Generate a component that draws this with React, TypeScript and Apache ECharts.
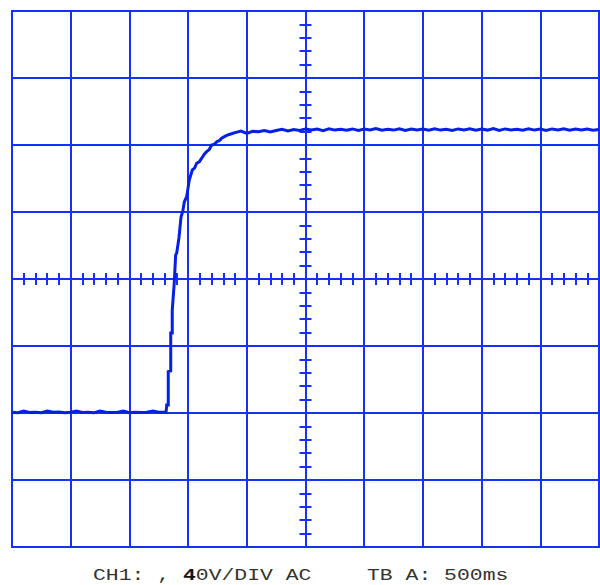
import React, { useEffect, useRef } from "react";
import * as echarts from "echarts";

// Scope settings: 40 V/div vertically (8 divisions), 500 ms/div horizontally (10 divisions),
// time measured in seconds from the centre of the screen.
const voltsPerDiv = 40;
const secondsPerDiv = 0.5;
const verticalDivs = 8;
const horizontalDivs = 10;
const ticksPerDiv = 5;

// Captured CH1 record
const sampleStep = 0.05;

// Flat level before the step, sampled from t = -2.50 s
const baselineStart = -2.5;
const baselineVolts = [
  -79.6, -79.8, -78.9, -79.7, -79.5, -79.8, -78.9, -79.6, -79.4, -79.8,
  -79.6, -78.8, -79.7, -79.6, -79.8, -78.9, -79.5, -79.7, -79.6, -78.9,
  -79.8, -79.5, -79.7, -79.6, -78.8, -79.6, -79.5,
];

// The rising edge
const riseTimes = [
  -1.188, -1.182, -1.169, -1.169, -1.148, -1.148, -1.135, -1.135, -1.118, -1.106,
  -1.097, -1.078, -1.06, -1.045, -1.032, -1.012, -0.99, -0.964, -0.945, -0.927,
  -0.905, -0.884, -0.862, -0.842, -0.82, -0.799, -0.776, -0.756, -0.735, -0.714,
  -0.68, -0.65,
];
const riseVolts = [
  -79.6, -75.2, -75.2, -55.3, -54.9, -32.2, -32.2, -18.5, -2.4, 14.3,
  15.5, 24.5, 37.2, 40.5, 46.1, 49.1, 59.1, 65.1, 66.2, 69.1,
  70.0, 72.1, 74.5, 76.0, 77.3, 80.0, 80.4, 82.0, 82.6, 84.0,
  85.4, 86.3,
];

// Settled level, sampled from t = -0.60 s to the right edge
const plateauStart = -0.6;
const plateauVolts = [
  87.4, 88.3, 86.9, 88.2, 87.9, 88.7, 87.8, 88.7, 89.4, 88.4,
  89.3, 88.7, 89.6, 88.9, 89.5, 88.6, 89.7, 88.9, 89.4, 88.8,
  89.6, 88.7, 89.5, 89.0, 89.8, 88.8, 89.4, 88.9, 89.7, 88.7,
  89.5, 89.0, 89.6, 88.8, 89.7, 88.9, 89.4, 88.7, 89.6, 89.0,
  89.7, 88.8, 89.5, 88.9, 89.8, 88.7, 89.6, 89.0, 89.4, 88.8,
  89.7, 88.9, 89.5, 88.7, 89.6, 89.0, 89.7, 88.8, 89.5, 88.9,
  89.6, 88.8, 89.3,
];

const channelLabel = "CH1: , {b|4}0V/DIV AC";
const timebaseLabel = "TB A: 500ms";

const GRID_BLUE = "#1232f8";
const TRACE_BLUE = "#0520e4";

function buildTrace(): [number, number][] {
  const pts: [number, number][] = [];
  baselineVolts.forEach((v, i) => pts.push([+(baselineStart + i * sampleStep).toFixed(3), v]));
  riseTimes.forEach((t, i) => pts.push([t, riseVolts[i]]));
  plateauVolts.forEach((v, i) => pts.push([+(plateauStart + i * sampleStep).toFixed(3), v]));
  return pts;
}

function timeAxis(position: "bottom" | "top", withGrid: boolean) {
  const half = (horizontalDivs / 2) * secondsPerDiv;
  return {
    type: "value" as const,
    position,
    min: -half,
    max: half,
    interval: secondsPerDiv,
    axisLine: { show: true, onZero: true, lineStyle: { color: GRID_BLUE, width: 2 } },
    axisTick: { show: true, inside: false, length: 6, lineStyle: { color: GRID_BLUE, width: 2 } },
    minorTick: { show: true, splitNumber: ticksPerDiv, length: 6, lineStyle: { color: GRID_BLUE, width: 2 } },
    axisLabel: { show: false },
    splitLine: { show: withGrid, showMinLine: true, showMaxLine: true, lineStyle: { color: GRID_BLUE, width: 2 } },
    minorSplitLine: { show: false },
  };
}

function voltAxis(position: "left" | "right", withGrid: boolean) {
  const half = (verticalDivs / 2) * voltsPerDiv;
  return {
    type: "value" as const,
    position,
    min: -half,
    max: half,
    interval: voltsPerDiv,
    axisLine: { show: true, onZero: true, lineStyle: { color: GRID_BLUE, width: 2 } },
    axisTick: { show: true, inside: false, length: 6, lineStyle: { color: GRID_BLUE, width: 2 } },
    minorTick: { show: true, splitNumber: ticksPerDiv, length: 6, lineStyle: { color: GRID_BLUE, width: 2 } },
    axisLabel: { show: false },
    splitLine: { show: withGrid, showMinLine: true, showMaxLine: true, lineStyle: { color: GRID_BLUE, width: 2 } },
    minorSplitLine: { show: false },
  };
}

export default function App() {
  const ref = useRef<HTMLDivElement>(null);

  useEffect(() => {
    if (!ref.current) return;
    const chart = echarts.init(ref.current, undefined, { renderer: "svg" });
    chart.setOption({
      animation: false,
      backgroundColor: "#ffffff",
      grid: {
        left: 12,
        right: 1,
        top: 11,
        bottom: 38,
        show: true,
        borderColor: GRID_BLUE,
        borderWidth: 2,
        backgroundColor: "transparent",
      },
      xAxis: [timeAxis("bottom", true), timeAxis("top", false)],
      yAxis: [voltAxis("left", true), voltAxis("right", false)],
      series: [
        {
          type: "line",
          xAxisIndex: 0,
          yAxisIndex: 0,
          data: buildTrace(),
          showSymbol: false,
          symbol: "none",
          lineStyle: { color: TRACE_BLUE, width: 3, join: "miter" },
          z: 5,
        },
      ],
      graphic: [
        {
          type: "text",
          x: 93,
          y: 576,
          scaleX: 1.26,
          style: {
            text: channelLabel,
            font: '17px "Liberation Mono", monospace',
            fill: "#333333",
            verticalAlign: "middle",
            rich: {
              b: { font: 'bold 17px "Liberation Mono", monospace', fill: "#111111" },
            },
          },
        },
        {
          type: "text",
          x: 367,
          y: 576,
          scaleX: 1.26,
          style: {
            text: timebaseLabel,
            font: '17px "Liberation Mono", monospace',
            fill: "#333333",
            verticalAlign: "middle",
          },
        },
      ],
    });
    return () => chart.dispose();
  }, []);

  return (
    <div
      ref={ref}
      style={{ position: "absolute", left: 0, top: 0, width: 600, height: 585 }}
    />
  );
}
